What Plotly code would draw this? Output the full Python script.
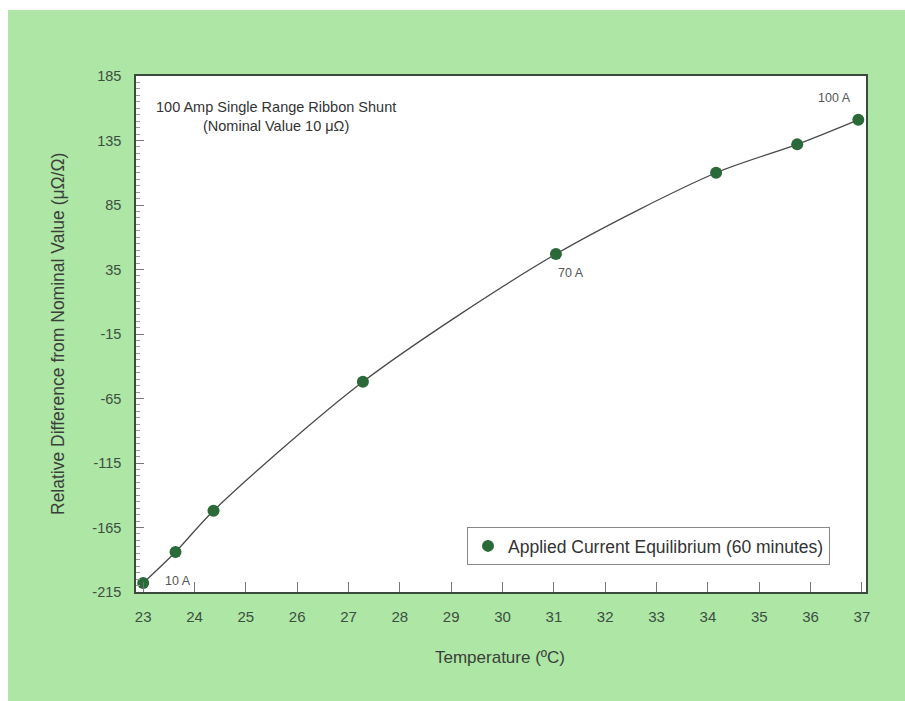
import plotly.graph_objects as go

# Data
temperature = [23.0, 23.63, 24.37, 27.28, 31.04, 34.16, 35.74, 36.93]
rel_diff = [-208, -184, -152, -52, 47, 110, 132, 151]
x_ticks = list(range(23, 38))
y_ticks = list(range(-215, 186, 50))
y_tick_text = [str(v) for v in y_ticks]
point_labels = {0: "10 A", 4: "70 A", 7: "100 A"}

BG = "#ade6a5"
AXIS = "#3a4a3c"
TICKTXT = "#3c4f40"
FONT = "Liberation Sans, Arial"

# plot area target on page: x 136..866, y 76..592
L, T = 136, 76
PW, PH = 730, 516

fig = go.Figure()
fig.add_trace(go.Scatter(
    x=temperature, y=rel_diff, mode="lines",
    line=dict(color="#4a4a4a", width=1.3, shape="spline", smoothing=0.8),
    showlegend=False, hoverinfo="skip"))
fig.add_trace(go.Scatter(
    x=temperature, y=rel_diff, mode="markers",
    marker=dict(color="#2a6a38", size=12),
    name="Applied Current Equilibrium (60 minutes)", cliponaxis=False))

offsets = {0: (35, 2), 4: (15, -19), 7: (-24, 22)}
for i, txt in point_labels.items():
    dx, dy = offsets[i]
    fig.add_annotation(x=temperature[i], y=rel_diff[i], text=txt, showarrow=False,
                       xshift=dx, yshift=dy, xanchor="center", yanchor="middle",
                       font=dict(size=12.5, color="#555555", family=FONT))


def px(xp):
    return (xp - L) / PW


def py(yp):
    return (T + PH - yp) / PH


fig.add_annotation(xref="paper", yref="paper", x=px(276), y=py(116),
                   xanchor="center", yanchor="middle",
                   text="100 Amp Single Range Ribbon Shunt<br>(Nominal Value 10 μΩ)",
                   showarrow=False, align="center",
                   font=dict(size=14.5, color="#333333", family=FONT))

fig.add_annotation(xref="paper", yref="paper", x=px(500), y=py(657),
                   xanchor="center", yanchor="middle",
                   text="Temperature (ºC)", showarrow=False,
                   font=dict(size=17, color="#3a3f3a", family=FONT))
fig.add_annotation(xref="paper", yref="paper", x=px(58), y=py(334),
                   xanchor="center", yanchor="middle",
                   text="Relative Difference from Nominal Value (μΩ/Ω)", showarrow=False,
                   textangle=-90,
                   font=dict(size=17.5, color="#3a3f3a", family=FONT))

# white strips at top / left edges of the scanned page
fig.add_shape(type="rect", xref="paper", yref="paper", x0=-0.3, x1=1.2,
              y0=py(10), y1=1.3, fillcolor="white", line_width=0)
fig.add_shape(type="rect", xref="paper", yref="paper", x0=-0.3, x1=px(8),
              y0=-0.4, y1=1.3, fillcolor="white", line_width=0)

fig.update_xaxes(range=[22.86, 37.08], tickvals=x_ticks, ticks="inside", ticklen=10,
                 tickcolor="#777777", showline=True, linecolor=AXIS, linewidth=1.5,
                 mirror=True, showgrid=False, zeroline=False, ticklabelstandoff=10,
                 tickfont=dict(size=15, color=TICKTXT, family=FONT))
fig.update_yaxes(range=[-215, 185], tickvals=y_ticks, ticktext=y_tick_text,
                 ticks="inside", ticklen=8,
                 tickcolor="#777777", showline=True, linecolor=AXIS, linewidth=1.5,
                 mirror=True, showgrid=False, zeroline=False, ticklabelstandoff=10,
                 minor=dict(ticks="inside", ticklen=4, dtick=5, tick0=-215,
                            tickcolor="#999999", showgrid=False),
                 tickfont=dict(size=14.5, color=TICKTXT, family=FONT))

fig.update_layout(
    width=905, height=701,
    margin=dict(l=L, r=905 - L - PW, t=T, b=701 - T - PH, autoexpand=False),
    paper_bgcolor=BG, plot_bgcolor="white",
    legend=dict(x=px(467), y=py(527), xanchor="left", yanchor="top",
                bgcolor="white", bordercolor="#888888", borderwidth=1,
                font=dict(size=17.5, color="#333333", family=FONT),
                itemwidth=30),
    font=dict(family=FONT),
)

fig.write_html("out.html", config={"displayModeBar": False},
               post_script="document.body.style.margin='0';document.body.style.overflow='hidden';")
